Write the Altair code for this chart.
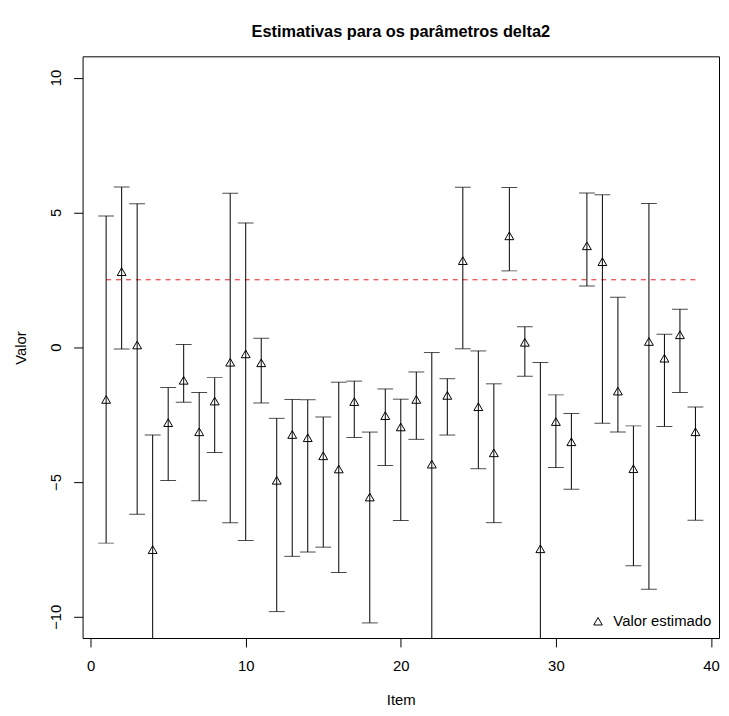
import altair as alt
import pandas as pd

items = list(range(1, 40))
estimates = [-1.94, 2.80, 0.08, -7.51, -2.80, -1.23, -3.14, -2.00, -0.56, -0.25,
             -0.58, -4.94, -3.24, -3.36, -4.03, -4.52, -2.02, -5.56, -2.54, -2.96,
             -1.94, -4.34, -1.79, 3.21, -2.21, -3.92, 4.13, 0.18, -7.48, -2.76,
             -3.51, 3.76, 3.17, -1.63, -4.51, 0.21, -0.41, 0.46, -3.14]
upper = [4.87, 5.94, 5.32, -3.26, -1.50, 0.10, -1.68, -1.13, 5.71, 4.61,
         0.33, -2.64, -1.94, -1.95, -2.59, -1.30, -1.26, -3.15, -1.55, -1.93,
         -0.92, -0.20, -1.17, 5.93, -0.14, -1.36, 5.92, 0.76, -0.57, -1.77,
         -2.46, 5.72, 5.65, 1.85, -2.92, 5.33, 0.48, 1.41, -2.22]
lower = [-7.27, -0.07, -6.20, -11.5, -4.95, -2.04, -5.70, -3.91, -6.51, -7.17,
         -2.07, -9.81, -7.76, -7.60, -7.42, -8.36, -3.35, -10.23, -4.39, -6.43,
         -3.42, -11.5, -3.26, -0.06, -4.51, -6.51, 2.83, -1.08, -11.5, -4.46,
         -5.27, 2.27, -2.82, -3.15, -8.11, -8.98, -2.94, -1.68, -6.42]
ref_x = [1, 39]
ref_y = [2.5, 2.5]
x_ticks = [0, 10, 20, 30, 40]
y_ticks = [-10, -5, 0, 5, 10]

df = pd.DataFrame({"Item": items, "Valor": estimates, "upper": upper,
                   "lower": lower, "serie": ["Valor estimado"] * len(items)})
ref = pd.DataFrame({"Item": ref_x, "Valor": ref_y})

FONT = "Liberation Sans"
W, H = 642.7, 587.4

xscale = alt.Scale(domain=[-0.52, 40.52], nice=False, zero=False)
yscale = alt.Scale(domain=[-10.79, 10.79], nice=False, zero=False)

xaxis = alt.Axis(values=x_ticks, grid=False, domain=False, tickColor="black",
                 tickSize=9, tickWidth=1, labelFont=FONT, labelFontSize=15,
                 labelColor="black", labelPadding=12, labelFlush=False,
                 title="Item", titleFont=FONT, titleFontSize=15,
                 titleFontWeight="normal", titleColor="black",
                 titleX=W / 2, titleY=62, titleBaseline="middle",
                 titleAlign="center")
yaxis = alt.Axis(values=y_ticks, grid=False, domain=False, tickColor="black",
                 tickSize=9, tickWidth=1, labelFont=FONT, labelFontSize=15,
                 labelColor="black", labelAngle=270, labelAlign="center",
                 labelBaseline="bottom", labelPadding=10, labelFlush=False,
                 title="Valor", titleFont=FONT, titleFontSize=15,
                 titleFontWeight="normal", titleColor="black",
                 titleX=-63, titleY=294, titleAngle=270,
                 titleBaseline="middle", titleAlign="center")

base = alt.Chart(df)

bars = base.mark_rule(color="black", strokeWidth=1, clip=True).encode(
    x=alt.X("Item:Q", scale=xscale, axis=xaxis),
    y=alt.Y("lower:Q", scale=yscale, axis=yaxis),
    y2="upper:Q",
)
caps_top = base.mark_tick(color="black", orient="horizontal", size=16,
                          thickness=1, clip=True).encode(
    x=alt.X("Item:Q", scale=xscale),
    y=alt.Y("upper:Q", scale=yscale),
)
caps_bot = base.mark_tick(color="black", orient="horizontal", size=16,
                          thickness=1, clip=True).encode(
    x=alt.X("Item:Q", scale=xscale),
    y=alt.Y("lower:Q", scale=yscale),
)
refline = alt.Chart(ref).mark_line(color="#e32020", strokeWidth=1,
                                   strokeDash=[5, 5]).encode(
    x=alt.X("Item:Q", scale=xscale),
    y=alt.Y("Valor:Q", scale=yscale),
)
points = base.mark_point(filled=False, color="black", size=80,
                         strokeWidth=1, opacity=1).encode(
    x=alt.X("Item:Q", scale=xscale),
    y=alt.Y("Valor:Q", scale=yscale),
    shape=alt.Shape("serie:N",
                    scale=alt.Scale(domain=["Valor estimado"], range=["triangle-up"]),
                    legend=alt.Legend(title=None, orient="bottom-right",
                                      labelFont=FONT, labelFontSize=15,
                                      labelColor="black", symbolSize=75,
                                      symbolStrokeColor="black",
                                      symbolStrokeWidth=1, offset=8,
                                      padding=0, labelOffset=8)),
)

chart = alt.layer(refline, bars, caps_top, caps_bot, points).properties(
    width=W, height=H,
    title=alt.TitleParams("Estimativas para os parâmetros delta2", font=FONT,
                          fontSize=16.5, fontWeight="bold", color="black",
                          anchor="middle", offset=16),
    autosize=alt.AutoSizeParams(type="none"),
    padding={"left": 75.3, "top": 45.3, "right": 2, "bottom": 80},
).configure_view(stroke="black", strokeWidth=1)

chart.save("out.html", embed_options={"renderer": "svg", "actions": False})
